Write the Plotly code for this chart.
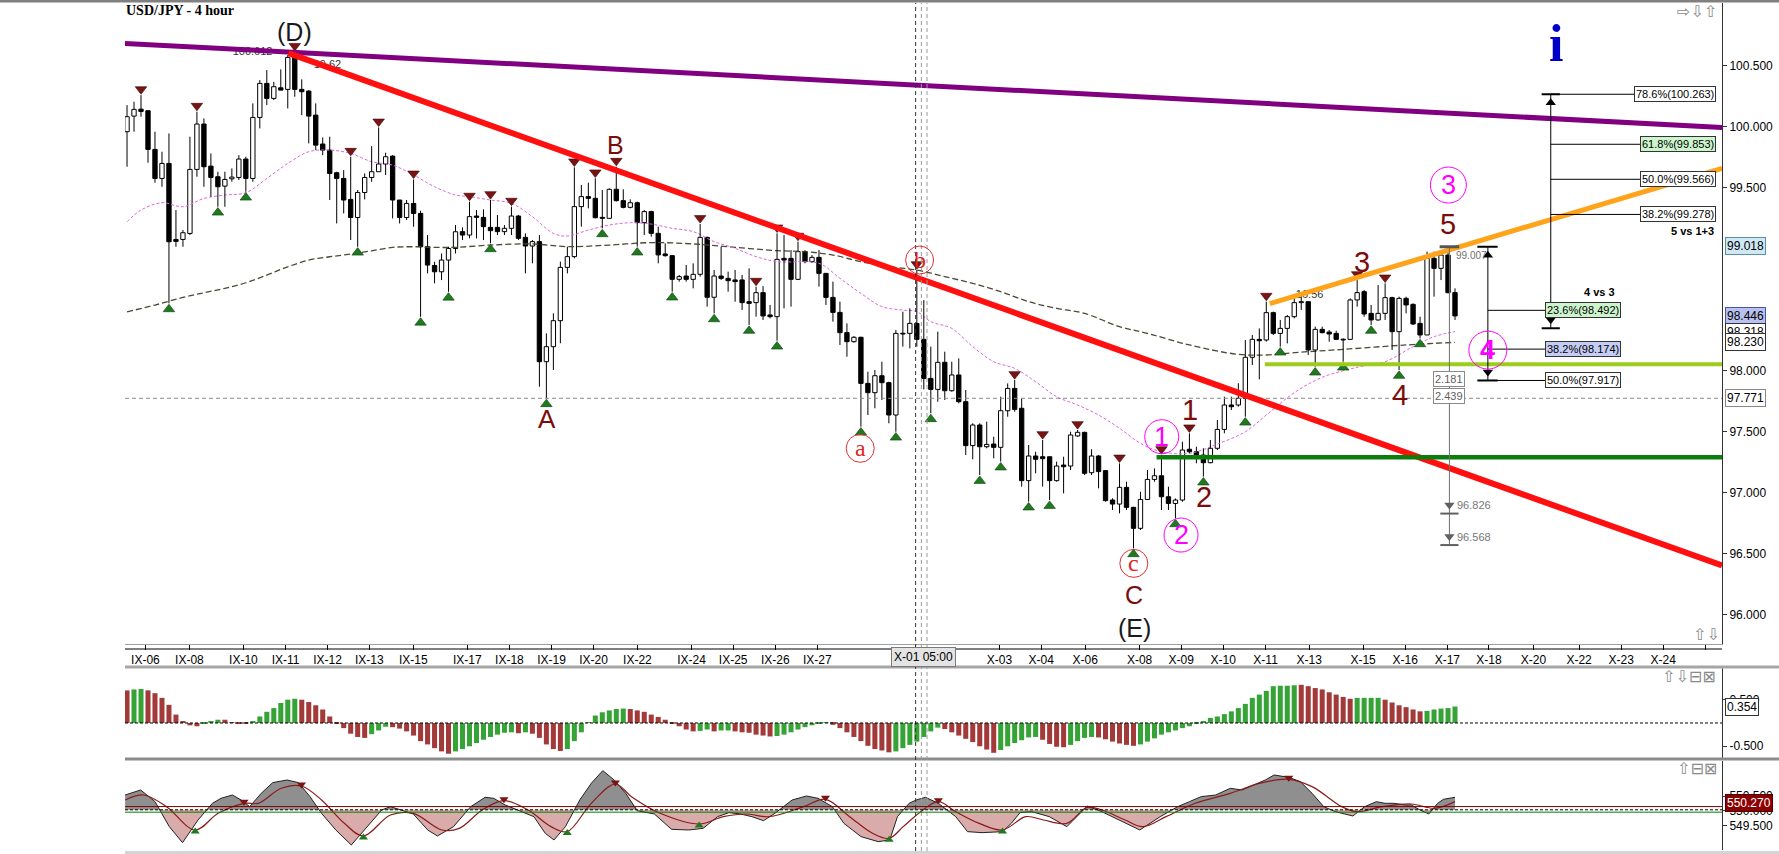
import plotly.graph_objects as go

W, H = 1779, 854
PX0, PX1 = 125, 1722
def fx(p): return p / W
def fy(p): return 1 - p / H

NARROW = "Liberation Sans Narrow, Liberation Sans, Arial, sans-serif"
SANS = "Liberation Sans, Arial, sans-serif"
SERIF = "Liberation Serif, Times New Roman, serif"

# ---------------- data ----------------
title = "USD/JPY - 4 hour"

opens = [99.956,100.084,100.141,100.128,99.811,99.573,99.696,99.073,99.073,99.122,
 99.647,100.019,99.674,99.587,99.510,99.570,99.581,99.732,99.573,100.073,
 100.352,100.229,100.316,100.303,100.584,100.303,100.289,100.092,99.855,99.805,
 99.620,99.573,99.401,99.253,99.458,99.581,99.628,99.691,99.756,99.396,
 99.253,99.368,99.286,99.013,98.860,98.808,98.904,98.999,99.137,99.109,
 99.265,99.254,99.172,99.172,99.137,99.164,99.265,99.090,99.019,99.055,
 98.071,98.194,98.407,98.844,98.932,99.342,99.424,99.410,99.254,99.246,
 99.484,99.391,99.336,99.374,99.211,99.301,99.123,98.954,98.940,98.746,
 98.773,98.746,98.787,99.090,98.599,98.773,98.754,98.741,98.741,98.563,
 98.555,98.637,98.454,98.440,98.918,98.918,98.746,98.973,98.891,98.926,
 98.795,98.598,98.475,98.309,98.235,98.271,97.893,97.817,97.956,97.899,
 97.634,98.303,98.303,98.385,98.254,97.934,97.844,98.066,97.833,97.962,
 97.743,97.383,97.552,97.374,97.396,97.369,97.669,97.852,97.689,97.096,
 97.298,97.292,97.292,97.096,97.224,97.216,97.462,97.492,97.161,97.298,
 97.178,96.937,96.904,97.041,96.877,96.705,96.942,97.106,97.136,96.964,
 96.909,96.937,97.353,97.333,97.306,97.243,97.361,97.516,97.716,97.716,
 97.771,98.107,98.254,98.249,98.473,98.303,98.344,98.440,98.555,98.563,
 98.167,98.336,98.314,98.303,98.254,98.254,98.577,98.645,98.467,98.413,
 98.467,98.596,98.317,98.590,98.541,98.385,98.290,98.918,98.836,98.945,
 98.637]

highs = [100.174,100.202,100.256,100.133,99.956,99.792,99.942,99.314,99.150,99.915,
 100.120,100.065,99.778,99.628,99.628,99.655,99.764,99.751,100.188,100.379,
 100.461,100.365,100.467,100.584,100.611,100.385,100.297,100.188,99.909,99.915,
 99.628,99.642,99.751,99.478,99.614,99.838,99.991,99.784,99.764,99.396,
 99.396,99.565,99.308,99.109,98.890,98.958,99.013,99.191,99.172,99.383,
 99.314,99.320,99.396,99.273,99.191,99.342,99.273,99.123,99.068,99.109,
 98.303,98.467,98.891,99.014,99.664,99.519,99.538,99.574,99.478,99.492,
 99.669,99.484,99.402,99.383,99.314,99.309,99.178,99.041,98.946,98.782,
 98.864,98.877,99.200,99.096,98.823,99.014,98.809,98.823,98.782,98.836,
 98.686,98.691,98.536,99.123,99.109,98.986,99.055,98.986,98.945,98.986,
 98.795,98.727,98.563,98.385,98.281,98.276,97.989,98.003,98.071,97.907,
 98.331,98.481,98.508,98.822,98.576,98.194,98.317,98.153,98.071,98.098,
 97.839,97.566,97.566,97.579,97.456,97.784,97.893,97.921,97.771,97.388,
 97.333,97.429,97.292,97.252,97.292,97.497,97.511,97.497,97.353,97.306,
 97.183,96.951,97.237,97.087,96.882,97.005,97.183,97.196,97.306,97.046,
 96.950,97.415,97.484,97.374,97.361,97.429,97.593,97.784,97.784,97.894,
 98.249,98.290,98.344,98.563,98.481,98.413,98.454,98.604,98.631,98.568,
 98.358,98.358,98.331,98.325,98.262,98.590,98.740,98.658,98.536,98.699,
 98.713,98.604,98.604,98.604,98.549,98.440,98.973,98.973,98.986,99.008,
 98.672]

lows = [99.669,99.956,100.079,99.702,99.538,99.505,98.549,99.013,99.013,99.109,
 99.587,99.505,99.423,99.341,99.341,99.546,99.560,99.464,99.546,99.983,
 100.174,100.215,100.297,100.147,100.243,100.092,99.860,99.805,99.764,99.396,
 99.204,99.286,99.068,99.013,99.401,99.546,99.628,99.601,99.245,99.204,
 99.232,99.177,98.439,98.795,98.713,98.740,98.644,98.958,99.068,99.082,
 99.082,99.068,99.041,99.109,99.109,99.109,99.068,98.795,98.877,97.866,
 97.771,98.003,98.222,98.795,98.918,99.178,99.328,99.246,99.164,99.246,
 99.383,99.328,99.328,99.014,99.109,99.096,98.877,98.932,98.645,98.727,
 98.727,98.672,98.768,98.522,98.467,98.741,98.645,98.563,98.495,98.372,
 98.440,98.413,98.426,98.243,98.508,98.522,98.740,98.877,98.882,98.686,
 98.536,98.399,98.208,98.112,98.227,97.538,97.634,97.689,97.757,97.566,
 97.497,98.194,98.180,98.194,97.844,97.648,97.743,97.757,97.825,97.730,
 97.306,97.271,97.142,97.361,97.279,97.252,97.620,97.661,97.047,96.924,
 97.156,97.047,96.937,97.088,96.992,97.183,97.456,97.142,97.142,97.033,
 96.924,96.855,96.828,96.855,96.541,96.691,96.937,97.087,96.855,96.855,
 96.787,96.923,97.320,97.238,97.129,97.238,97.347,97.484,97.675,97.702,
 97.620,98.044,97.926,98.235,98.290,98.194,98.221,98.426,98.495,98.126,
 98.030,98.303,98.235,98.249,98.071,98.249,98.522,98.440,98.372,98.407,
 98.413,98.167,98.003,98.467,98.372,98.262,98.290,98.604,98.740,98.631,
 98.413]

closes = [100.079,100.139,100.122,99.811,99.573,99.696,99.054,99.057,99.128,99.647,
 100.019,99.669,99.581,99.505,99.565,99.584,99.732,99.573,100.073,100.352,
 100.229,100.325,100.297,100.565,100.303,100.284,100.084,99.846,99.805,99.614,
 99.573,99.396,99.253,99.458,99.581,99.628,99.691,99.751,99.396,99.253,
 99.368,99.286,99.013,98.863,98.808,98.904,98.999,99.136,99.109,99.260,
 99.254,99.178,99.145,99.137,99.164,99.265,99.082,99.019,99.055,98.071,
 98.194,98.407,98.844,98.932,99.342,99.424,99.410,99.251,99.246,99.484,
 99.391,99.336,99.374,99.211,99.301,99.123,98.946,98.940,98.746,98.768,
 98.746,98.787,99.090,98.599,98.773,98.754,98.735,98.727,98.555,98.549,
 98.637,98.446,98.440,98.910,98.904,98.746,98.973,98.891,98.926,98.795,
 98.598,98.475,98.309,98.235,98.271,97.893,97.817,97.956,97.899,97.634,
 98.303,98.298,98.385,98.254,97.934,97.844,98.066,97.833,97.962,97.743,
 97.383,97.552,97.374,97.393,97.369,97.669,97.852,97.680,97.096,97.298,
 97.271,97.276,97.096,97.216,97.210,97.470,97.492,97.156,97.298,97.170,
 96.932,96.904,97.041,96.877,96.705,96.942,97.106,97.136,96.964,96.909,
 96.937,97.347,97.333,97.306,97.243,97.361,97.516,97.716,97.702,97.771,
 98.107,98.254,98.243,98.473,98.303,98.344,98.440,98.555,98.563,98.167,
 98.336,98.309,98.298,98.254,98.249,98.577,98.637,98.462,98.413,98.467,
 98.596,98.317,98.590,98.536,98.380,98.290,98.918,98.836,98.945,98.637,
 98.446]

# fractal markers (candle indices)
frac_down = [2, 10, 24, 32, 36, 41, 49, 52, 55, 64, 67, 70, 82, 90, 93, 96, 113,
             127, 131, 136, 142, 148, 152, 163, 176, 180]
frac_up = [6, 13, 17, 33, 42, 46, 52, 60, 68, 73, 78, 84, 89, 93, 105, 110, 115,
           122, 125, 129, 132, 144, 150, 154, 160, 165, 170, 174, 178, 182, 185]

# moving averages (read at sample candles)
mag_i = [0, 2, 5, 8, 11, 14, 17, 20, 23, 26, 29, 32, 35, 38, 41, 44, 47, 49, 52, 55,
         58, 61, 63, 66, 69, 72, 75, 78, 81, 84, 87, 90, 93, 99, 102, 105, 108, 111,
         113, 115, 118, 121, 124, 127, 130, 133, 136, 139, 142, 145, 148, 152, 156,
         160, 163, 167, 171, 176, 180, 184, 187, 190]
mag_v = [99.218, 99.314, 99.374, 99.341, 99.409, 99.437, 99.456, 99.573, 99.696, 99.792,
         99.805, 99.778, 99.710, 99.682, 99.601, 99.505, 99.437, 99.424, 99.396, 99.369,
         99.260, 99.123, 99.101, 99.150, 99.191, 99.210, 99.199, 99.164, 99.137, 99.055,
         99.000, 98.932, 98.891, 98.877, 98.754, 98.631, 98.522, 98.494, 98.481, 98.399,
         98.344, 98.194, 98.071, 98.016, 97.907, 97.784, 97.716, 97.634, 97.525, 97.402,
         97.333, 97.320, 97.396, 97.497, 97.634, 97.817, 97.943, 98.025, 98.071, 98.194,
         98.276, 98.318]
olive_i = [0, 4, 8, 11, 14, 17, 20, 23, 26, 29, 32, 35, 38, 41, 44, 47, 52, 58, 63, 69,
           75, 81, 87, 93, 97, 101, 105, 109, 113, 117, 121, 125, 129, 133, 137, 142,
           146, 152, 159, 163, 167, 174, 183, 190]
olive_v = [98.480, 98.535, 98.598, 98.636, 98.672, 98.718, 98.781, 98.849, 98.904, 98.931,
           98.953, 98.980, 99.008, 99.013, 99.008, 99.008, 99.027, 99.036, 99.014, 99.027,
           99.047, 99.036, 99.008, 98.981, 98.973, 98.945, 98.891, 98.850, 98.822, 98.768,
           98.713, 98.645, 98.563, 98.508, 98.467, 98.358, 98.303, 98.208, 98.131, 98.126,
           98.145, 98.172, 98.208, 98.230]

# drawn trend / level lines (candle index, price)
purple_x, purple_y = [-0.29, 228.2], [100.68, 99.99]
red_x, red_y = [23.1, 228.2], [100.60, 96.40]
orange_x, orange_y = [163.5, 228.2], [98.547, 99.656]
lime_x, lime_y = [162.8, 228.2], [98.049, 98.049]
green_x, green_y = [147.3, 228.2], [97.287, 97.287]
alow_price = 97.771

# fibonacci tools
fib1_levels = [100.263, 99.853, 99.566, 99.278]
fib1_text = ["78.6%(100.263)", "61.8%(99.853)", "50.0%(99.566)", "38.2%(99.278)"]
fib1_base = 98.345
fib2_levels = [98.492, 98.174, 97.917]
fib2_text = ["23.6%(98.492)", "38.2%(98.174)", "50.0%(97.917)"]
fib2_top = 99.013
meas_top, meas_marks = 99.013, [96.826, 96.568]

# histogram oscillator (panel 2)
hist_v = [0.70,0.72,0.73,0.70,0.64,0.54,0.39,0.18,0.04,-0.05,
 -0.07,-0.02,0.04,0.07,0.07,0.01,-0.02,-0.02,0.04,0.14,
 0.24,0.32,0.43,0.50,0.52,0.50,0.45,0.38,0.29,0.14,
 -0.01,-0.11,-0.23,-0.30,-0.32,-0.24,-0.16,-0.08,-0.09,-0.12,
 -0.18,-0.27,-0.39,-0.46,-0.54,-0.61,-0.66,-0.61,-0.56,-0.50,
 -0.43,-0.36,-0.30,-0.25,-0.21,-0.20,-0.22,-0.20,-0.23,-0.32,
 -0.46,-0.56,-0.60,-0.56,-0.39,-0.20,0.01,0.16,0.23,0.27,
 0.30,0.31,0.30,0.27,0.24,0.18,0.13,0.07,-0.01,-0.07,
 -0.14,-0.18,-0.17,-0.14,-0.18,-0.16,-0.16,-0.18,-0.20,-0.21,
 -0.25,-0.27,-0.29,-0.28,-0.25,-0.20,-0.14,-0.09,-0.05,-0.02,
 0.01,-0.04,-0.11,-0.20,-0.30,-0.39,-0.49,-0.56,-0.59,-0.63,
 -0.61,-0.54,-0.47,-0.40,-0.30,-0.18,-0.10,-0.13,-0.20,-0.27,
 -0.34,-0.41,-0.50,-0.57,-0.64,-0.58,-0.50,-0.43,-0.37,-0.31,
 -0.30,-0.36,-0.45,-0.51,-0.52,-0.47,-0.39,-0.32,-0.30,-0.31,
 -0.35,-0.40,-0.44,-0.47,-0.49,-0.46,-0.40,-0.33,-0.25,-0.20,
 -0.16,-0.11,-0.07,-0.02,0.04,0.11,0.14,0.19,0.25,0.32,
 0.41,0.54,0.61,0.69,0.79,0.80,0.80,0.81,0.82,0.79,
 0.75,0.72,0.66,0.61,0.56,0.52,0.54,0.54,0.54,0.54,
 0.50,0.44,0.38,0.34,0.29,0.25,0.26,0.29,0.31,0.32,
 0.354]
hist_col = ("rggrrrrrrr" "rgggrrrrgg" "gggggrrrrr" "rrrrrgggrr" "rrrrrrrggg"
            "ggggggrgrr" "rrrggggggg" "ggrrrrrrrr" "rrggrggrrr" "rrrggggggg"
            "grrrrrrrrr" "gggggggrrr" "rrrrrggggg" "grrrrggggr" "rrrrrggggg"
            "gggggggggg" "ggggggggrr" "rrrrrrgggg" "rrrrrrgggg" "g")

# line oscillator (panel 3)
osc_i = [-0.27, 1.95, 4.01, 6.05, 7.94, 10.16, 12.22, 13.45, 15.09, 16.32, 17.55, 19.2,
         20.84, 22.89, 24.53, 26.18, 27.83, 29.87, 32.09, 34.39, 36.44, 37.68, 39.31,
         40.96, 43.02, 44.41, 46.71, 49.17, 51.23, 52.46, 54.11, 56.57, 58.21, 59.84,
         61.09, 62.72, 64.78, 66.42, 68.07, 69.70, 71.34, 72.99, 75.45, 77.91, 80.39,
         82.43, 84.49, 86.12, 87.77, 89.41, 91.06, 92.70, 95.16, 97.21, 98.86, 100.92,
         102.56, 105.02, 107.48, 109.13,
         110.23, 111.90, 112.91, 114.24, 116.08, 117.32, 118.57, 120.25, 122.33, 125.26,
         126.52, 127.77, 129.45, 131.96, 134.46, 136.13, 137.38, 139.47, 141.97, 144.90,
         147.82, 150.32, 152.00, 153.68, 155.76, 157.85, 159.52, 161.20, 162.86, 164.12,
         166.21, 167.87, 169.55, 171.22, 172.88, 175.39, 177.07, 178.74, 179.99, 181.24,
         182.92, 183.75, 185.00, 186.25, 187.52, 188.34, 190.00]
osc_v = [550.544, 550.714, 550.317, 549.467, 548.923, 549.694, 550.261, 550.431, 550.544,
         550.374, 550.147, 550.601, 550.964, 551.054, 550.964, 550.488, 549.921, 549.354,
         548.844, 549.467, 550.034, 550.147, 550.034, 549.898, 549.354, 549.150, 549.467,
         550.147, 550.465, 550.431, 550.204, 549.977, 549.807, 549.240, 549.014, 549.467,
         550.374, 550.941, 551.372, 551.054, 550.601, 550.011, 549.898, 549.376, 549.354,
         549.410, 549.807, 549.943, 549.898, 549.807, 549.671, 549.921, 550.374, 550.510,
         550.431, 550.147, 549.580, 549.127, 548.957, 549.014,
         549.807, 550.261, 550.374, 550.465, 550.261, 550.034, 549.807, 549.297, 549.263,
         549.297, 549.580, 549.943, 549.977, 549.807, 549.467, 549.864, 550.170, 549.977,
         549.694, 549.354, 549.807, 550.147, 550.317, 550.488, 550.544, 550.771, 550.714,
         550.884, 551.054, 551.224, 551.145, 550.998, 550.601, 550.147, 549.977, 549.830,
         550.147, 550.317, 550.261, 550.261, 550.204, 550.204, 550.034, 549.898, 550.261,
         550.397, 550.465]
sig_i = [-0.27, 2.36, 5.65, 9.75, 13.04, 16.74, 18.79, 22.07, 24.95, 27.83, 31.10, 33.82,
         37.68, 40.96, 45.07, 47.53, 50.82, 53.93, 57.38, 60.67, 62.98, 66.42, 69.87,
         72.17, 76.28, 81.86, 85.31, 88.60, 91.88, 96.81, 99.93, 103.38, 106.67, 109.04,
         111.06, 113.56, 116.08, 118.57, 121.92, 125.26, 128.60, 131.12, 134.46, 137.38,
         139.47, 142.80, 145.32, 148.66, 152.83, 157.85, 162.02, 166.21, 169.55, 173.80,
         175.89, 179.65, 183.75, 187.09, 190.0]
sig_v = [550.374, 550.544, 550.147, 549.354, 549.921, 550.261, 550.261, 550.771, 550.850,
         550.374, 549.580, 549.150, 549.864, 549.921, 549.354, 549.410, 550.034, 550.351,
         550.034, 549.467, 549.297, 550.261, 550.918, 550.488, 549.921, 549.558, 549.807,
         549.898, 549.807, 550.147, 550.397, 549.807, 549.240, 549.070,
         549.467, 549.977, 550.317, 549.977, 549.580, 549.354, 549.807, 549.694, 549.580,
         550.125, 550.034, 549.694, 549.467, 549.807, 550.261, 550.601, 550.941, 551.077,
         550.828, 550.147, 549.977, 550.147, 550.238, 550.091, 550.317]
sig_peaks = [5, 8, 17, 22, 30, 36, 51]      # positions in sig arrays
sig_troughs = [3, 11, 20, 25, 33, 39]
osc_levels = {"red": 550.15, "dash": 550.04, "green": 549.96}
osc_last = 550.270

xtick_pos = [2.63, 8.93, 16.65, 22.68, 28.70, 34.66, 40.96, 48.68, 54.71, 60.73, 66.75,
             73.03, 80.76, 86.72, 92.75, 98.77, 112.83, 124.82, 130.80, 137.10, 144.87,
             150.83, 156.84, 162.90, 169.14, 176.85, 182.88, 188.90, 194.86, 201.22,
             207.75, 213.78, 219.80, 225.78]
xtick_lab = ['IX-06', 'IX-08', 'IX-10', 'IX-11', 'IX-12', 'IX-13', 'IX-15', 'IX-17',
             'IX-18', 'IX-19', 'IX-20', 'IX-22', 'IX-24', 'IX-25', 'IX-26', 'IX-27', '',
             'X-03', 'X-04', 'X-06', 'X-08', 'X-09', 'X-10', 'X-11', 'X-13', 'X-15',
             'X-16', 'X-17', 'X-18', 'X-20', 'X-22', 'X-23', 'X-24', '']
price_ticks = [100.5, 100.0, 99.5, 98.0, 97.5, 97.0, 96.5, 96.0]

# ---------------- figure ----------------
n = len(opens)
idx = list(range(n))
XR = [-0.29, 228.2]
fig = go.Figure()
SK = 'skip'

fig.add_trace(go.Scatter(x=olive_i, y=olive_v, mode='lines', hoverinfo=SK,
                         line=dict(color='#4a4a38', width=1.3, dash='6px,3px', shape='spline')))
fig.add_trace(go.Scatter(x=mag_i, y=mag_v, mode='lines', hoverinfo=SK,
                         line=dict(color='#dd66dd', width=1, dash='3px,2px', shape='spline')))

bot = [min(o, c) for o, c in zip(opens, closes)]
top = [max(o, c) for o, c in zip(opens, closes)]
hgt = [max(t - b, 0.006) for t, b in zip(top, bot)]
bcol = ['white' if c > o else 'black' for o, c in zip(opens, closes)]
fig.add_trace(go.Bar(x=idx, y=hgt, base=bot, width=0.62, hoverinfo=SK,
                     marker=dict(color=bcol, line=dict(color='black', width=1))))
wx, wy = [], []
for i in idx:
    wx += [i, i, None, i, i, None]
    wy += [highs[i], top[i], None, bot[i], lows[i], None]
fig.add_trace(go.Scatter(x=wx, y=wy, mode='lines', hoverinfo=SK,
                         line=dict(color='black', width=1)))

off = 0.048
fig.add_trace(go.Scatter(x=frac_down, y=[highs[i] + off for i in frac_down], mode='markers',
                         hoverinfo=SK, marker=dict(symbol='triangle-down', size=10, color='#7a1414',
                                                   line=dict(color='#3a0000', width=0.6))))
fig.add_trace(go.Scatter(x=frac_up, y=[lows[i] - off for i in frac_up], mode='markers',
                         hoverinfo=SK, marker=dict(symbol='triangle-up', size=10, color='#1f7a1f',
                                                   line=dict(color='#0b3d0b', width=0.6))))

# small grey labels that sit under the drawn lines
fig.add_trace(go.Scatter(x=[17.96, 28.68, 169.2], y=[100.611, 100.502, 98.617], mode='text',
                         text=['100.612', '19.62', '16.56'], hoverinfo=SK,
                         textfont=dict(family=SANS, size=11, color='#333333')))

fig.add_trace(go.Scatter(x=XR, y=[alow_price, alow_price], mode='lines', hoverinfo=SK,
                         line=dict(color='#8a8a8a', width=1, dash='4px,3px')))
for lx, ly, c, w in [(purple_x, purple_y, '#800080', 5), (red_x, red_y, '#ff1010', 6),
                     (orange_x, orange_y, '#ffa31a', 5), (lime_x, lime_y, '#9ccc1c', 4),
                     (green_x, green_y, '#0a7d0a', 4.5)]:
    fig.add_trace(go.Scatter(x=lx, y=ly, mode='lines', hoverinfo=SK, line=dict(color=c, width=w)))

# fib tool 1
fx1 = 203.7
segx, segy = [fx1, fx1, None], [fib1_levels[0], fib1_base, None]
for k, lv in enumerate(fib1_levels):
    segx += [fx1, 216.1 if k == 0 else 216.9, None]; segy += [lv, lv, None]
fig.add_trace(go.Scatter(x=segx, y=segy, mode='lines', hoverinfo=SK, line=dict(color='black', width=1)))
fig.add_trace(go.Scatter(x=[202.4, 205.0, None, 202.4, 205.0], y=[fib1_levels[0]] * 2 + [None] + [fib1_base] * 2,
                         mode='lines', hoverinfo=SK, line=dict(color='black', width=2)))
# fib tool 2
fx2 = 194.7
segx, segy = [fx2, fx2, None], [fib2_top, fib2_levels[-1], None]
for lv in fib2_levels:
    segx += [fx2, 202.9, None]; segy += [lv, lv, None]
fig.add_trace(go.Scatter(x=segx, y=segy, mode='lines', hoverinfo=SK, line=dict(color='black', width=1)))
fig.add_trace(go.Scatter(x=[193.2, 196.1, None, 193.2, 196.1], y=[fib2_top] * 2 + [None] + [fib2_levels[-1]] * 2,
                         mode='lines', hoverinfo=SK, line=dict(color='black', width=2)))
fig.add_trace(go.Scatter(x=[fx1, fx2], y=[fib1_levels[0] - 0.07, fib2_top - 0.07], mode='markers', hoverinfo=SK,
                         marker=dict(symbol='triangle-up', size=9, color='black')))
fig.add_trace(go.Scatter(x=[fx1, fx2], y=[fib1_base + 0.07, fib2_levels[-1] + 0.07], mode='markers', hoverinfo=SK,
                         marker=dict(symbol='triangle-down', size=9, color='black')))
# measuring tool (grey)
mx = 189.2
fig.add_trace(go.Scatter(x=[mx, mx], y=[meas_top, meas_marks[-1]], mode='lines', hoverinfo=SK,
                         line=dict(color='#707070', width=1)))
fig.add_trace(go.Scatter(x=[187.8, 190.6], y=[meas_top, meas_top], mode='lines', hoverinfo=SK,
                         line=dict(color='#555555', width=3)))
mbx, mby = [], []
for m in meas_marks:
    mbx += [187.9, 190.5, None]; mby += [m, m, None]
fig.add_trace(go.Scatter(x=mbx, y=mby, mode='lines', hoverinfo=SK, line=dict(color='#606060', width=2)))
fig.add_trace(go.Scatter(x=[mx, mx], y=[m + 0.07 for m in meas_marks], mode='markers', hoverinfo=SK,
                         marker=dict(symbol='triangle-down', size=9, color='#606060')))

# histogram panel
GREEN, RED = '#36a336', '#a33a3a'
fig.add_trace(go.Bar(x=idx, y=hist_v, width=0.72, xaxis='x2', yaxis='y2', hoverinfo=SK,
                     marker=dict(color=[GREEN if c == 'g' else RED for c in hist_col], line=dict(width=0))))

# oscillator panel
base = osc_levels["dash"]
ox, oy = [osc_i[0]], [osc_v[0]]
for k in range(1, len(osc_i)):
    a0, b0, a1, b1 = osc_i[k - 1], osc_v[k - 1], osc_i[k], osc_v[k]
    if (b0 - base) * (b1 - base) < 0:
        t = (base - b0) / (b1 - b0)
        ox.append(a0 + t * (a1 - a0)); oy.append(base)
    ox.append(a1); oy.append(b1)
up = [max(v, base) for v in oy]
dn = [min(v, base) for v in oy]
for vals, c in [(up, '#8f8f8f'), (dn, '#d9abab')]:
    fig.add_trace(go.Scatter(x=ox + ox[::-1], y=vals + [base] * len(ox), fill='toself', fillcolor=c,
                             mode='lines', line=dict(width=0), xaxis='x3', yaxis='y3', hoverinfo=SK))
fig.add_trace(go.Scatter(x=osc_i, y=osc_v, mode='lines', line=dict(color='#222222', width=1),
                         xaxis='x3', yaxis='y3', hoverinfo=SK))
fig.add_trace(go.Scatter(x=sig_i, y=sig_v, mode='lines', line=dict(color='#8b1a1a', width=1.2, shape='spline'),
                         xaxis='x3', yaxis='y3', hoverinfo=SK))
fig.add_trace(go.Scatter(x=[sig_i[k] for k in sig_peaks], y=[sig_v[k] + 0.05 for k in sig_peaks], mode='markers',
                         marker=dict(symbol='triangle-down', size=8, color='#7a1414'), xaxis='x3', yaxis='y3', hoverinfo=SK))
fig.add_trace(go.Scatter(x=[sig_i[k] for k in sig_troughs], y=[sig_v[k] - 0.05 for k in sig_troughs], mode='markers',
                         marker=dict(symbol='triangle-up', size=8, color='#1f7a1f'), xaxis='x3', yaxis='y3', hoverinfo=SK))

# ---------------- shapes ----------------
shapes = []
shapes.append(dict(type='rect', xref='paper', yref='paper', x0=0, x1=1, y0=fy(2.5), y1=1,
                   fillcolor='#808080', line_width=0))
for y0p, y1p, c in [(665.5, 668.5, '#a6a6a6'), (757.5, 760.5, '#8c8c8c'), (851, 854, '#d4d4d4')]:
    shapes.append(dict(type='rect', xref='paper', yref='paper', x0=fx(PX0), x1=1, y0=fy(y1p), y1=fy(y0p),
                       fillcolor=c, line_width=0))
shapes.append(dict(type='line', xref='paper', yref='paper', x0=fx(PX0), x1=fx(PX1), y0=fy(649), y1=fy(649),
                   line=dict(color='black', width=1)))
for xv, c in [(112.83, '#333333'), (113.65, '#9a9a9a'), (114.46, '#9a9a9a')]:
    shapes.append(dict(type='line', xref='x', yref='paper', x0=xv, x1=xv, y0=fy(851), y1=fy(3),
                       line=dict(color=c, width=1, dash='4px,3px')))
shapes.append(dict(type='line', xref='x2', yref='y2', x0=XR[0], x1=XR[1], y0=0, y1=0,
                   line=dict(color='black', width=1, dash='3px,2px')))
for key, c, d in [("red", '#800000', 'solid'), ("dash", '#000000', '3px,2px'), ("green", '#008000', 'solid')]:
    v = osc_levels[key]
    shapes.append(dict(type='line', xref='x3', yref='y3', x0=XR[0], x1=XR[1], y0=v, y1=v,
                       line=dict(color=c, width=1, dash=d)))

def circ(xc, yc, r, color):
    return dict(type='circle', xref='x', yref='y', xsizemode='pixel', ysizemode='pixel',
                xanchor=xc, yanchor=yc, x0=-r, x1=r, y0=-r, y1=r, line=dict(color=color, width=1))

ann = []
def txt(t, x, y, color, size, family=SANS, xref='x', yref='y', xanchor='center', **kw):
    ann.append(dict(text=t, x=x, y=y, xref=xref, yref=yref, showarrow=False, xanchor=xanchor,
                    yanchor='middle', font=dict(color=color, size=size, family=family), **kw))

MAROON, CRED, MAG = '#7a0c0c', '#e02424', '#ff00ff'
for t, x, y, c, s in [("(D)", 23.9, 100.775, '#1a1a1a', 25), ("B", 69.9, 99.847, MAROON, 25),
                      ("A", 60.04, 97.598, MAROON, 26), ("C", 144.05, 96.158, MAROON, 25),
                      ("(E)", 144.15, 95.885, '#1a1a1a', 25), ("1", 152.1, 97.675, MAROON, 29),
                      ("2", 154.1, 96.96, MAROON, 29), ("3", 176.7, 98.890, MAROON, 29),
                      ("4", 182.2, 97.798, MAROON, 29), ("5", 189.05, 99.199, MAROON, 29)]:
    txt(t, x, y, c, s)
txt("<b>i</b>", 204.5, 100.68, '#0000c8', 52, SERIF)

for t, x, y in [("a", 104.9, 97.361), ("b", 113.4, 98.904), ("c", 144.05, 96.418)]:
    shapes.append(circ(x, y, 14, '#e03030'))
    txt(t, x, y, CRED, 24, SERIF)
for t, x, y, r in [("1", 148.04, 97.456, 17), ("2", 150.8, 96.65, 17), ("3", 189.05, 99.519, 18),
                   ("<b>4</b>", 194.7, 98.166, 19)]:
    shapes.append(circ(x, y, r, MAG))
    txt(t, x, y, MAG, 27)

txt("<b>" + title + "</b>", fx(124), fy(10.7), 'black', 14, SERIF, xref='paper', yref='paper', xanchor='left')

# fib labels
for t, lv, bg in zip(fib1_text, fib1_levels, ['white', '#cdf5cd', 'white', 'white']):
    txt(t, 227.3, lv, 'black', 11, NARROW, xanchor='right', bgcolor=bg, bordercolor='#333333',
        borderwidth=1, borderpad=1)
for t, lv, bg in zip(fib2_text, fib2_levels, ['#cdf5cd', '#c5cdf5', 'white']):
    txt(t, 202.9, lv, 'black', 11, NARROW, xanchor='left', bgcolor=bg, bordercolor='#333333',
        borderwidth=1, borderpad=1)
txt("<b>5 vs 1+3</b>", 227.3, 99.142, 'black', 11, SANS, xanchor='right')
txt("<b>4 vs 3</b>", 213.2, 98.644, 'black', 11, SANS, xanchor='right')

# measuring tool labels
txt("99.007", 189.9, 98.939, '#707070', 10, NARROW, xanchor='left')
for t, yv in [("2.181", 97.929), ("2.439", 97.792)]:
    txt(t, mx, yv, '#606060', 11, NARROW, bgcolor='white', bordercolor='#8a8a8a', borderwidth=1, borderpad=1)
for m in meas_marks:
    txt(f"{m:.3f}", 190.0, m + 0.07, '#777777', 11, NARROW, xanchor='left')

# right-hand price boxes
BOXF = 12
for v, bg, bc in [(99.018, '#cfe8f4', '#5b8fa8'), (98.446, '#b9c1f0', '#4a55a0'),
                  (98.318, 'white', '#333333'), (98.230, 'white', '#333333'), (alow_price, 'white', '#888888')]:
    txt(f"{v:.3f}", fx(1725), v, 'black', BOXF, SANS, xref='paper', xanchor='left',
        bgcolor=bg, bordercolor=bc, borderwidth=1, borderpad=1)
txt(f"{hist_v[-1]:.3f}", fx(1725), hist_v[-1], 'black', BOXF, SANS, xref='paper', yref='y2', xanchor='left',
    bgcolor='white', bordercolor='#333333', borderwidth=1, borderpad=1)
txt(f"{osc_last:.3f}", fx(1725), osc_last, 'white', BOXF, SANS, xref='paper', yref='y3', xanchor='left',
    bgcolor='#8b0000', bordercolor='#550000', borderwidth=1, borderpad=1)

txt("X-01 05:00", 113.9, fy(656.7), 'black', 12, NARROW, yref='paper', bgcolor='#e4e4e4',
    bordercolor='#7a7a7a', borderwidth=1, borderpad=2)

# window icons
for t, xp, yp in [("⇨⇩⇧", 1697, 11.7), ("⇧⇩", 1706, 634), ("⇧⇩⊟⊠", 1689, 676.7), ("⇧⊟⊠", 1697, 768)]:
    txt(t, fx(xp), fy(yp), '#8a8a8a', 16, "DejaVu Sans", xref='paper', yref='paper')

# ---------------- layout ----------------
tf = dict(family=SANS, size=12, color='black')
common_x = dict(range=XR, showgrid=False, zeroline=False, fixedrange=True)
yax = dict(side='right', ticks='outside', ticklen=4, tickcolor='#333', showline=True,
           linecolor='#333', showgrid=False, zeroline=False, tickfont=tf)
fig.update_layout(
    width=W, height=H, margin=dict(l=0, r=0, t=0, b=0), autosize=False,
    paper_bgcolor='white', plot_bgcolor='white', showlegend=False, barmode='overlay',
    shapes=shapes, annotations=ann,
    xaxis=dict(domain=[fx(PX0), fx(PX1)], anchor='y', tickvals=xtick_pos, ticktext=xtick_lab,
               ticks='outside', ticklen=5, tickcolor='black', showline=True, linecolor='#a0a0a0',
               tickfont=dict(family=NARROW, size=12, color='black'), **common_x),
    yaxis=dict(domain=[fy(644), fy(3)], range=[95.757, 101.011], anchor='x',
               tickvals=price_ticks, ticktext=[f"{v:.3f}" for v in price_ticks], **yax),
    xaxis2=dict(domain=[fx(PX0), fx(PX1)], anchor='y2', showticklabels=False, ticks='', **common_x),
    yaxis2=dict(domain=[fy(759), fy(667)], range=[-0.773, 1.202], anchor='x2',
                tickvals=[0.5, -0.5], ticktext=['0.500', '-0.500'], **yax),
    xaxis3=dict(domain=[fx(PX0), fx(PX1)], anchor='y3', showticklabels=False, ticks='', **common_x),
    yaxis3=dict(domain=[fy(850), fy(761)], range=[548.673, 551.70], anchor='x3',
                tickvals=[550.5, 550.0, 549.5], ticktext=['550.500', '550.000', '549.500'], **yax),
)
fig.write_html("out.html", config={'displayModeBar': False},
               post_script="document.body.style.margin='0px';document.body.style.overflow='hidden';")
